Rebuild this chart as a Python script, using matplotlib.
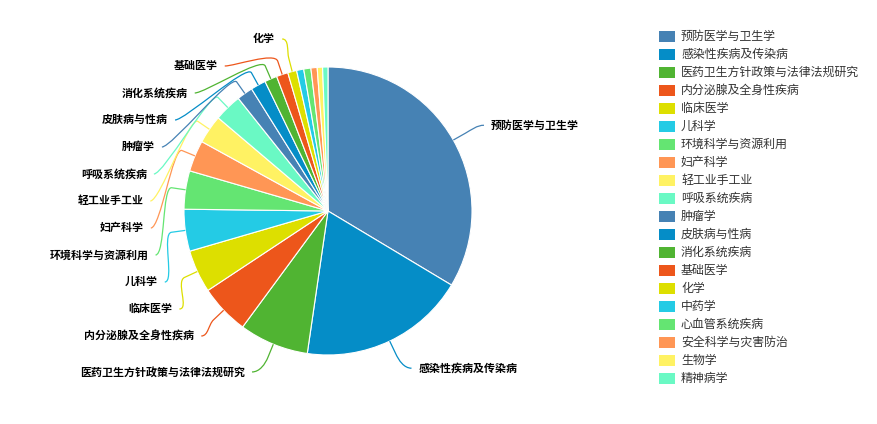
import numpy as np
import matplotlib.pyplot as plt
from matplotlib.patches import Rectangle, PathPatch
from matplotlib.path import Path

plt.rcParams['font.family'] = ['Noto Sans CJK SC', 'DejaVu Sans']

# Papers per subject area
subjects = ["预防医学与卫生学", "感染性疾病及传染病", "医药卫生方针政策与法律法规研究",
            "内分泌腺及全身性疾病", "临床医学", "儿科学", "环境科学与资源利用",
            "妇产科学", "轻工业手工业", "呼吸系统疾病", "肿瘤学", "皮肤病与性病",
            "消化系统疾病", "基础医学", "化学", "中药学", "心血管系统疾病",
            "安全科学与灾害防治", "生物学", "精神病学"]
counts = [336, 187, 78, 56, 48, 47, 43, 35, 32, 31, 18, 17, 14, 13, 10, 8, 8, 7, 6, 6]

palette = ['#4682B4', '#058DC7', '#50B432', '#ED561B', '#DDDF00',
           '#24CBE5', '#64E572', '#FF9655', '#FFF263', '#6AF9C4']
colors = [palette[i % len(palette)] for i in range(len(subjects))]

W, H = 878, 424
cx, cy, R = 328, 213, 144
r_elbow = R + 14      # first bend of the label line
r_label = 174         # natural label height
r_end = 178           # where label lines end horizontally
gap = 27              # vertical spacing between labels
label_top = H - 39
min_label_angle = 3

fig = plt.figure(figsize=(W / 100, H / 100), dpi=100)
ax = fig.add_axes([0, 0, 1, 1])
ax.set_xlim(0, W)
ax.set_ylim(0, H)
ax.axis('off')

wedges, _ = ax.pie(counts, colors=colors, center=(cx, cy), radius=R,
                   startangle=90, counterclock=False, frame=True,
                   wedgeprops=dict(edgecolor='white', linewidth=0.8))
ax.set_xlim(0, W)
ax.set_ylim(0, H)
ax.axis('off')


def spread(desired, top):
    # push overlapping labels apart, keeping clusters centred on their wishes
    clusters = []
    for i, d in enumerate(desired):
        clusters.append([i, 1, d])
        while True:
            c = clusters[-1]
            c[2] = min(c[2], top)
            if len(clusters) > 1:
                p = clusters[-2]
                if p[2] - (p[1] - 1) * gap - c[2] < gap:
                    n = p[1] + c[1]
                    t = np.mean([desired[j] + (j - p[0]) * gap
                                 for j in range(p[0], p[0] + n)])
                    clusters[-2:] = [[p[0], n, t]]
                    continue
            break
    out = []
    for s, n, t in clusters:
        out += [t - k * gap for k in range(n)]
    return out


items = []
for w, name, col in zip(wedges, subjects, colors):
    span = w.theta2 - w.theta1
    if span < min_label_angle:
        continue
    mid = np.deg2rad((w.theta1 + w.theta2) / 2)
    side = 1 if np.cos(mid) >= 0 else -1
    items.append(dict(name=name, col=col, mid=mid, side=side,
                      y0=cy + r_label * np.sin(mid)))

for side in (1, -1):
    group = sorted([it for it in items if it['side'] == side], key=lambda it: -it['y0'])
    ys = spread([it['y0'] for it in group], label_top)
    for it, y in zip(group, ys):
        it['y'] = y

for it in items:
    mid, side, y = it['mid'], it['side'], it['y']
    dy = abs(y - cy)
    if dy < r_end:
        dx = np.sqrt(r_end ** 2 - dy ** 2)
    else:
        dx = abs(r_label * np.cos(mid))
    x_end = cx + side * dx
    p0 = np.array([cx + R * np.cos(mid), cy + R * np.sin(mid)])
    p1 = np.array([cx + r_elbow * np.cos(mid), cy + r_elbow * np.sin(mid)])
    p2 = np.array([x_end, y])
    k = min(0.35 * np.linalg.norm(p2 - p1), 10)
    c1 = p1 + k * np.array([np.cos(mid), np.sin(mid)])
    c2 = p2 - side * np.array([k, 0])
    path = Path([p0, p1, c1, c2, p2],
                [Path.MOVETO, Path.LINETO, Path.CURVE4, Path.CURVE4, Path.CURVE4])
    ax.add_patch(PathPatch(path, facecolor='none', edgecolor=it['col'], linewidth=0.9))
    ax.text(x_end + side * 7, y, it['name'], ha='left' if side > 0 else 'right',
            va='center', fontsize=7.9, fontweight='bold', color='#000000')

# legend column
for i, (name, col) in enumerate(zip(subjects, colors)):
    ly = H - 36.5 - 18 * i
    ax.add_patch(Rectangle((659, ly - 5.5), 16, 11, facecolor=col, edgecolor='none'))
    ax.text(681, ly, name, ha='left', va='center', fontsize=8.6, color='#333333')

fig.savefig('out.png', dpi=100)
